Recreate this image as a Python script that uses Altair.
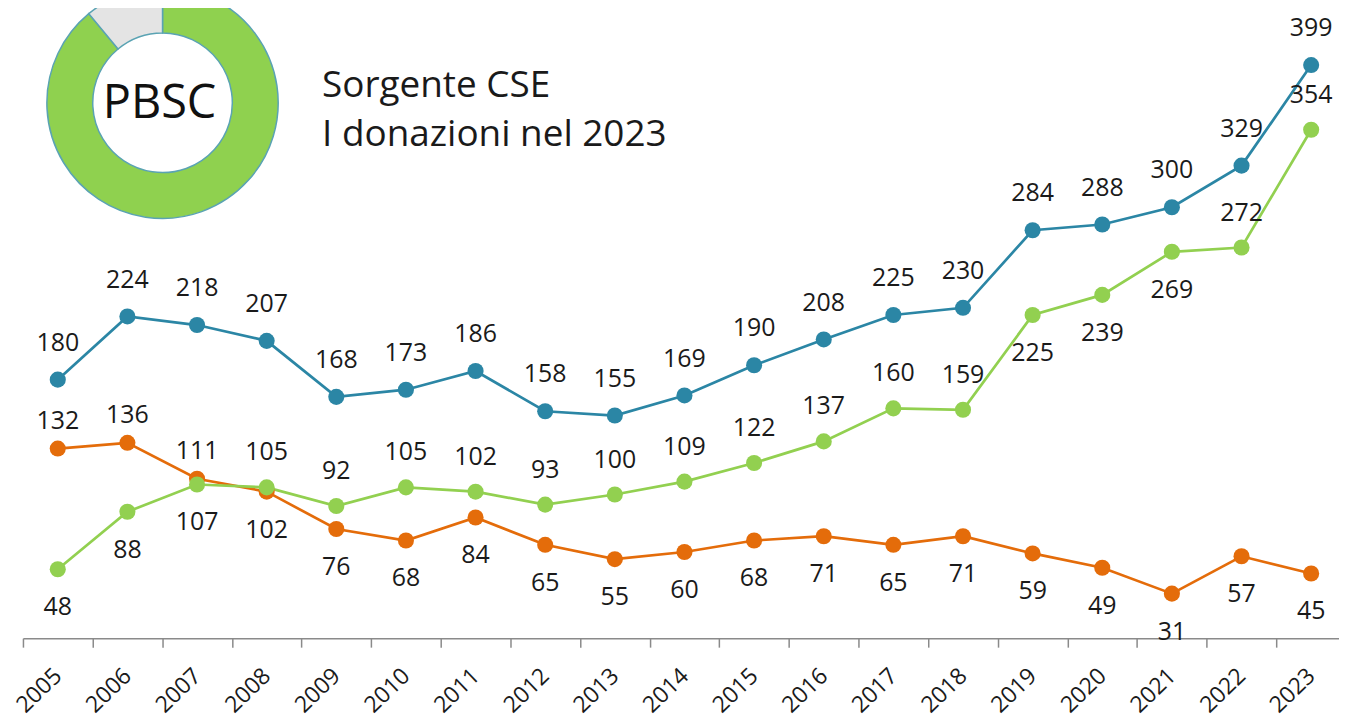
import altair as alt
import pandas as pd

# ---- data ----
anni = ["2005", "2006", "2007", "2008", "2009", "2010", "2011", "2012", "2013", "2014",
        "2015", "2016", "2017", "2018", "2019", "2020", "2021", "2022", "2023"]
serie_nomi = ["Familiari", "Non familiari", "Totale"]
valori_totale = [180, 224, 218, 207, 168, 173, 186, 158, 155, 169, 190, 208, 225, 230, 284, 288, 300, 329, 399]
valori_verde = [48, 88, 107, 105, 92, 105, 102, 93, 100, 109, 122, 137, 160, 159, 225, 239, 269, 272, 354]
valori_arancio = [132, 136, 111, 102, 76, 68, 84, 65, 55, 60, 68, 71, 65, 71, 59, 49, 31, 57, 45]
# label side (sopra = above, sotto = below)
pos_totale = ["sopra"] * 19
pos_verde = ["sotto", "sotto", "sotto", "sopra", "sopra", "sopra", "sopra", "sopra", "sopra", "sopra",
             "sopra", "sopra", "sopra", "sopra", "sotto", "sotto", "sotto", "sopra", "sopra"]
pos_arancio = ["sopra", "sopra", "sopra", "sotto", "sotto", "sotto", "sotto", "sotto", "sotto", "sotto",
               "sotto", "sotto", "sotto", "sotto", "sotto", "sotto", "sotto", "sotto", "sotto"]
logo_segmenti = ["PBSC", "altro"]
logo_quote = [89, 11]
logo_testo = "PBSC"
titolo_righe = ["Sorgente CSE", "I donazioni nel 2023"]

# ---- styles ----
BLU = "#2b86a5"
VERDE = "#92d050"
ARANCIO = "#e46c0a"
TESTO = "#1a1a1a"
FONT = "Open Sans"

rows = []
for serie, valori, pos in [("Familiari", valori_arancio, pos_arancio),
                           ("Non familiari", valori_verde, pos_verde),
                           ("Totale", valori_totale, pos_totale)]:
    for a, v, p in zip(anni, valori, pos):
        rows.append({"anno": a, "valore": v, "serie": serie, "pos": p})
df = pd.DataFrame(rows)

x = alt.X("anno:O", sort=anni,
          scale=alt.Scale(domain=anni, paddingInner=0, paddingOuter=0, range=[0, 1327]),
          axis=alt.Axis(title=None, grid=False, domainColor="#8a8a8a", domainWidth=1.5,
                        tickColor="#8a8a8a", tickWidth=1.5, tickSize=9, tickBand="extent",
                        labelAngle=-44, labelAlign="right", labelBaseline="middle",
                        labelPadding=25, labelFont=FONT, labelFontSize=23, labelColor=TESTO))
y = alt.Y("valore:Q", scale=alt.Scale(domain=[0, 438]), axis=None)
color = alt.Color("serie:N", scale=alt.Scale(domain=serie_nomi, range=[ARANCIO, VERDE, BLU]), legend=None)

base = alt.Chart(df).encode(x=x, y=y)

linee = base.mark_line(strokeWidth=2.7).encode(color=color, detail="serie:N")
punti = base.mark_circle(opacity=1).encode(
    color=color,
    size=alt.Size("serie:N", scale=alt.Scale(domain=serie_nomi, range=[260, 260, 530]), legend=None),
)

txt = dict(font=FONT, fontSize=25, color=TESTO, baseline="middle", align="center")
et_sopra_blu = base.mark_text(dy=-37, **txt).encode(text="valore:Q").transform_filter(
    (alt.datum.pos == "sopra") & (alt.datum.serie == "Totale"))
et_sopra_verde = base.mark_text(dy=-35, **txt).encode(text="valore:Q").transform_filter(
    (alt.datum.pos == "sopra") & (alt.datum.serie == "Non familiari"))
et_sopra_arancio = base.mark_text(dy=-28, **txt).encode(text="valore:Q").transform_filter(
    (alt.datum.pos == "sopra") & (alt.datum.serie == "Familiari"))
et_sotto = base.mark_text(dy=38, **txt).encode(text="valore:Q").transform_filter(
    alt.datum.pos == "sotto")

logo_df = pd.DataFrame({"segmento": logo_segmenti, "quota": logo_quote})
logo = alt.Chart(logo_df).mark_arc(innerRadius=70, outerRadius=116, stroke="#5aa3b3", strokeWidth=1.5).encode(
    theta=alt.Theta("quota:Q", stack=True),
    color=alt.Color("segmento:N", scale=alt.Scale(domain=logo_segmenti, range=["#8fd14f", "#e4e4e4"]), legend=None),
    order=alt.Order("quota:Q", sort="descending"),
    x=alt.value(140), y=alt.value(94),
)
logo_txt = alt.Chart(alt.Data(values=[{}])).mark_text(
    text=logo_testo, font=FONT, fontSize=47, color="#111111", align="center", baseline="middle"
).encode(x=alt.value(137), y=alt.value(95))

titolo = alt.Chart(alt.Data(values=[{}])).mark_text(
    text=titolo_righe, font=FONT, fontSize=37, color=TESTO, align="left", baseline="alphabetic",
    lineHeight=49
).encode(x=alt.value(300), y=alt.value(88))

chart = alt.layer(
    logo, logo_txt, titolo, linee, punti, et_sopra_blu, et_sopra_verde, et_sopra_arancio, et_sotto
).resolve_scale(color="independent").properties(
    width=1320, height=631,
    background="white",
    autosize=alt.AutoSizeParams(type="none"),
    padding={"left": 15, "top": 0, "right": 0, "bottom": 81},
).configure_view(stroke=None)

chart.save("out.html", embed_options={"renderer": "svg", "actions": False})
